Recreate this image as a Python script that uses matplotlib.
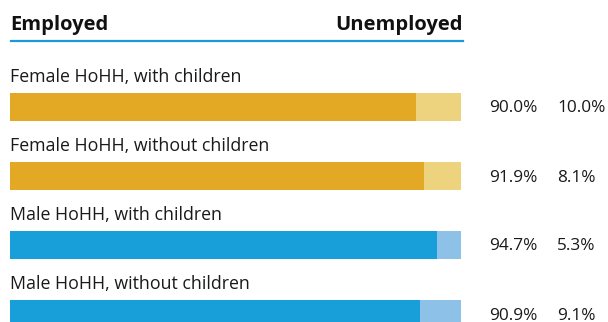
import matplotlib.pyplot as plt
from matplotlib.lines import Line2D

plt.rcParams['font.family'] = ['Open Sans', 'DejaVu Sans']

groups = ['Female HoHH, with children', 'Female HoHH, without children',
          'Male HoHH, with children', 'Male HoHH, without children']
employed = [90.0, 91.9, 94.7, 90.9]
unemployed = [10.0, 8.1, 5.3, 9.1]
emp_colors = ['#e3a924', '#e3a924', '#189fda', '#189fda']
unemp_colors = ['#edd37e', '#edd37e', '#8ec1e8', '#8ec1e8']

W, H = 608, 322
fig = plt.figure(figsize=(W / 100, H / 100), dpi=100)
x0, x1 = 10, 461
ax = fig.add_axes([x0 / W, 0, (x1 - x0) / W, 1])

# rows are 69 px apart, first bar centred 107 px from the top
pitch, first = 69, 107
ax.set_xlim(0, 100)
ax.set_ylim((H - first) / pitch, -first / pitch)
ax.axis('off')

y = list(range(len(groups)))
bh = 28 / pitch
ax.barh(y, employed, height=bh, color=emp_colors)
ax.barh(y, unemployed, left=employed, height=bh, color=unemp_colors)

def px_x(p):
    return (p - x0) / (x1 - x0) * 100

def px_y(p):
    return (p - first) / pitch

txt = '#1a1a1a'
for i, g in enumerate(groups):
    ax.text(0, i + px_y(82), g, fontsize=12.8, va='baseline', ha='left', color=txt)
    ax.text(px_x(489), i + px_y(112.5), f'{employed[i]:.1f}%', fontsize=12.4,
            va='baseline', ha='left', color=txt, clip_on=False)
    ax.text(px_x(557), i + px_y(112.5), f'{unemployed[i]:.1f}%', fontsize=12.4,
            va='baseline', ha='left', color=txt, clip_on=False)

ax.text(0, px_y(30), 'Employed', fontsize=14.5, fontweight='bold',
        va='baseline', ha='left', color='#111111')
ax.text(px_x(463), px_y(30), 'Unemployed', fontsize=14.5, fontweight='bold',
        va='baseline', ha='right', color='#111111', clip_on=False)
ax.add_line(Line2D([px_x(11), px_x(463)], [px_y(41)] * 2,
                   color='#1a9ad6', lw=1.6, clip_on=False))

fig.savefig('out.png', dpi=100)
